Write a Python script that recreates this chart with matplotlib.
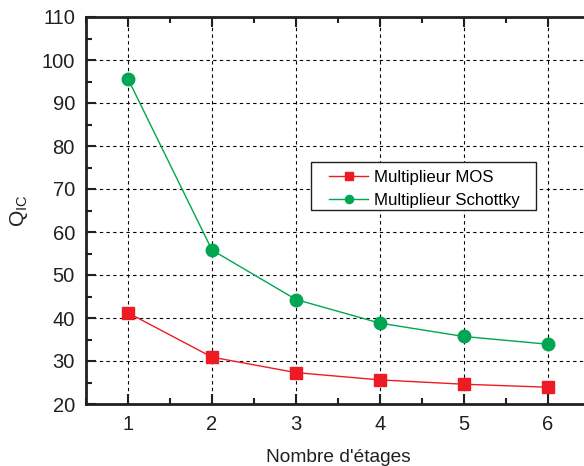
import matplotlib
matplotlib.use('Agg')
import matplotlib.pyplot as plt
from matplotlib.ticker import MultipleLocator
from matplotlib.patches import Rectangle

plt.rcParams['font.family'] = ['Liberation Sans', 'DejaVu Sans']

etages = [1, 2, 3, 4, 5, 6]
q_mos = [41.2, 30.9, 27.3, 25.6, 24.6, 23.9]
q_schottky = [95.6, 55.8, 44.3, 38.8, 35.7, 33.9]

fig = plt.figure(figsize=(5.84, 4.66), dpi=100)
ax = fig.add_axes([86 / 584, 62 / 466, (590 - 86) / 584, (404 - 17) / 466])

ax.plot(etages, q_mos, color='#ED1C24', marker='s', markersize=9, lw=1.0,
        label='Multiplieur MOS')
ax.plot(etages, q_schottky, color='#00A651', marker='o', markersize=9, lw=1.0,
        label='Multiplieur Schottky')

ax.set_xlim(0.5, 6.5)
ax.set_ylim(20, 110)
ax.xaxis.set_major_locator(MultipleLocator(1))
ax.xaxis.set_minor_locator(MultipleLocator(0.5))
ax.yaxis.set_major_locator(MultipleLocator(10))
ax.yaxis.set_minor_locator(MultipleLocator(5))

ax.grid(True, which='major', color='black', linestyle=(0, (3, 3)), lw=0.8)
ax.tick_params(which='both', direction='in', top=True, right=False, labelsize=14.5,
               width=1.5, colors='#231F20')
ax.tick_params(which='major', length=7, pad=8)
ax.tick_params(which='minor', length=4)
for s in ax.spines.values():
    s.set_linewidth(2)
    s.set_color('#231F20')

ax.set_xlabel("Nombre d'étages", fontsize=13.8, labelpad=11, color='#231F20')
ax.set_ylabel('Q$_{\\mathregular{IC}}$', fontsize=15, labelpad=8, color='#231F20')

# legend frame drawn separately (wider side padding than matplotlib gives)
frame = Rectangle(((311 - 86) / 504, (404 - 210) / 387), (536 - 311) / 504, 48 / 387,
                  transform=ax.transAxes, facecolor='white', edgecolor='#231F20',
                  lw=1, zorder=4)
ax.add_patch(frame)
leg = ax.legend(loc='upper left', bbox_to_anchor=((329 - 86) / 504, 1 - (170 - 17) / 387),
                fontsize=12.1, frameon=False, borderpad=0, handlelength=2.35,
                handletextpad=0.3, labelspacing=0.45, markerscale=0.65, borderaxespad=0)
leg.set_zorder(5)

fig.savefig('out.png', dpi=100)
